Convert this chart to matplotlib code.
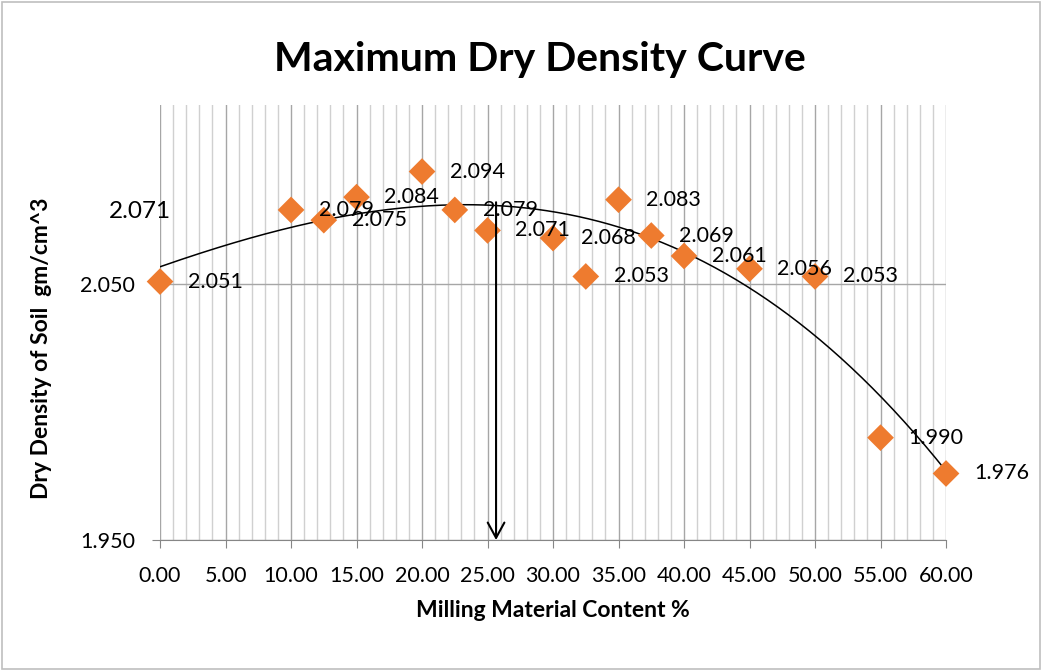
import matplotlib.pyplot as plt
import numpy as np
from matplotlib.patches import Rectangle
from matplotlib.ticker import MultipleLocator, FormatStrFormatter

plt.rcParams['font.family'] = ['Lato', 'DejaVu Sans']

# milling material content (%) and dry density (gm/cm^3)
content = [0, 10, 12.5, 15, 20, 22.5, 25, 30, 32.5, 35, 37.5, 40, 45, 50, 55, 60]
density = [2.051, 2.079, 2.075, 2.084, 2.094, 2.079, 2.071, 2.068, 2.053,
           2.083, 2.069, 2.061, 2.056, 2.053, 1.990, 1.976]
y_ticks = [1.950, 2.050]

x = np.array(content)
y = np.array(density)

fig = plt.figure(figsize=(10.42, 6.71), dpi=100)
ax = fig.add_axes([0.1536, 0.1952, 0.7543, 0.6483])

# grid
ax.set_xlim(0, 60)
ax.set_ylim(1.95, 2.12)
ax.xaxis.set_major_locator(MultipleLocator(5))
ax.xaxis.set_minor_locator(MultipleLocator(1))
ax.set_yticks(y_ticks)
ax.xaxis.set_major_formatter(FormatStrFormatter('%.2f'))
ax.yaxis.set_major_formatter(FormatStrFormatter('%.3f'))
ax.grid(True, which='major', axis='both', color='#a6a6a6', lw=1.0)
ax.grid(True, which='minor', axis='x', color='#d0d0d0', lw=1.0)
ax.set_axisbelow(True)
for s in ['top', 'right', 'left']:
    ax.spines[s].set_visible(False)
ax.spines['bottom'].set_color('#868686')
ax.tick_params(axis='x', which='major', length=6, color='#868686', pad=13, labelsize=15.5)
ax.tick_params(axis='y', which='major', length=6, color='#868686', pad=12, labelsize=15.5)
ax.tick_params(which='minor', length=0)

# polynomial trendline
coef = np.polyfit(x, y, 3)
xs = np.linspace(0, 60, 300)
ax.plot(xs, np.polyval(coef, xs), color='black', lw=1.1, zorder=3)

ax.scatter(x, y, marker='D', s=185, color='#ee7b2f', edgecolors='none', zorder=4,
           clip_on=False)

for xi, yi in zip(content, density):
    ax.annotate(f'{yi:.3f}', (xi, yi), xytext=(20, 0), textcoords='offset points',
                ha='left', va='center', fontsize=15.5, zorder=5)

# arrow to optimum content
ax.annotate('', xy=(25.65, 1.950), xytext=(25.65, 2.082),
            arrowprops=dict(arrowstyle='->,head_length=1.1,head_width=0.6',
                            color='black', lw=1.5, shrinkA=0, shrinkB=0), zorder=6)

fig.text(140 / 1042, 1 - 211 / 671, '2.071', fontsize=17.5, ha='center', va='center')

fig.text(0.518, 1 - 60 / 671, 'Maximum Dry Density Curve', fontsize=29.5,
         fontweight='bold', ha='center', va='center')
ax.set_xlabel('Milling Material Content %', fontsize=16.5, fontweight='bold', labelpad=10)
fig.text(42 / 1042, 1 - 348 / 671, 'Dry Density of Soil  gm/cm^3', fontsize=16.5,
         fontweight='bold', rotation=90, ha='center', va='center')

fig.patches.append(Rectangle((0.002, 0.003), 0.996, 0.994, transform=fig.transFigure,
                             fill=False, edgecolor='#bfbfbf', lw=1.2))

plt.savefig('out.png', dpi=100)
